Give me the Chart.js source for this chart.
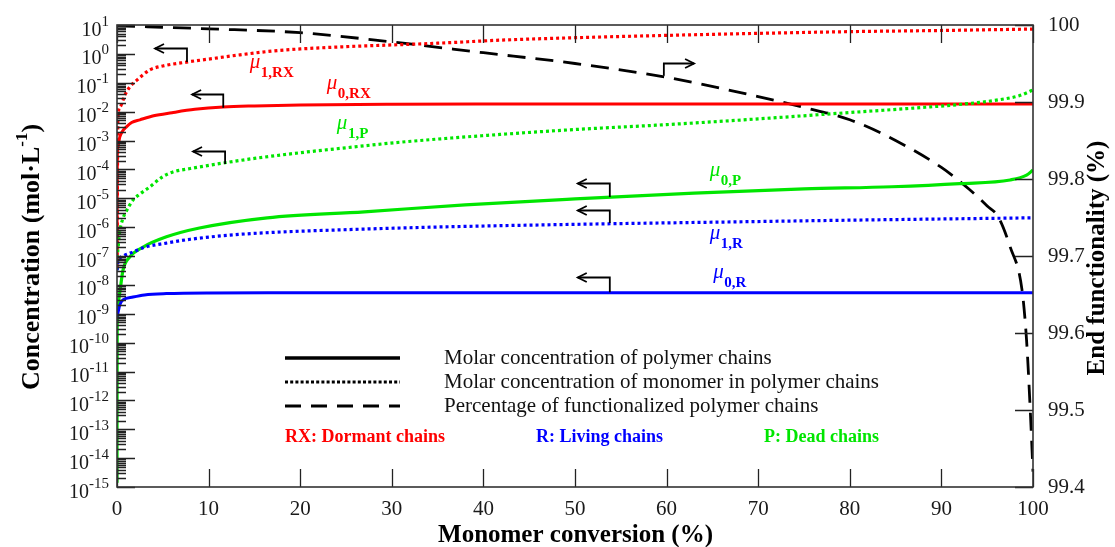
<!DOCTYPE html>
<html><head><meta charset="utf-8">
<script src="https://cdn.jsdelivr.net/npm/chart.js@4.4.1/dist/chart.umd.min.js"></script>
<style>html,body{margin:0;padding:0;background:#fff;}#c{display:block;}</style>
</head><body>
<canvas id="c" width="1115" height="547"></canvas>
<script>
// ---------- data (monomer conversion %, concentration mol/L) ----------
const conv_mu1RX = [0, 0.1, 0.33, 0.87, 1.4, 2.2, 3.6, 5, 7.6, 10, 13, 17, 20, 25, 30, 35, 42, 50, 60, 70, 80, 90, 100];
const mu1RX      = [4e-8, 6.3e-3, 0.0145, 0.038, 0.072, 0.126, 0.28, 0.38, 0.52, 0.66, 0.89, 1.26, 1.48, 1.78, 2.04, 2.34, 3.0, 3.63, 4.37, 5.13, 5.89, 6.46, 7.24];

const conv_mu0RX = [0, 0.03, 0.1, 0.3, 0.6, 1, 1.6, 2.5, 4, 6, 8.5, 11.6, 15, 20, 30, 40, 60, 80, 100];
const mu0RX      = [4e-8, 2.5e-4, 6e-4, 1.3e-3, 2.1e-3, 2.9e-3, 4.2e-3, 5.2e-3, 7.2e-3, 9.2e-3, 1.2e-2, 1.45e-2, 1.58e-2, 1.7e-2, 1.8e-2, 1.83e-2, 1.84e-2, 1.84e-2, 1.84e-2];

const conv_mu1P = [0, 0.05, 0.15, 0.33, 0.65, 1, 1.75, 2.5, 3.6, 5, 6.1, 8, 11.6, 15, 20.7, 25, 29.8, 35, 41.8, 50, 60, 70, 80, 86, 92.4, 96, 98.5, 100];
const mu1P      = [3.2e-8, 1e-7, 2.5e-7, 7.9e-7, 2e-6, 3.5e-6, 8.7e-6, 1.4e-5, 2.5e-5, 5.6e-5, 8.1e-5, 1.07e-4, 1.66e-4, 2.4e-4, 4e-4, 5.6e-4, 8.1e-4, 1.12e-3, 1.62e-3, 2.4e-3, 3.55e-3, 5.6e-3, 9.3e-3, 1.26e-2, 1.82e-2, 2.5e-2, 3.55e-2, 5.6e-2];

const conv_mu0P = [0, 0.02, 0.1, 0.33, 0.65, 1.4, 2.8, 5.4, 9, 16.4, 27, 38, 50, 63, 75, 84.6, 92, 97.5, 99.3, 100];
const mu0P      = [1.4e-15, 3.2e-10, 2e-9, 6.3e-9, 3.2e-8, 9.3e-8, 2e-7, 4.6e-7, 9.3e-7, 2.1e-6, 3.4e-6, 5.9e-6, 9.5e-6, 1.5e-5, 2.1e-5, 2.5e-5, 3.2e-5, 4.3e-5, 6.3e-5, 9.5e-5];

const conv_mu1R = [0, 0.1, 0.33, 0.8, 1.75, 3, 5.4, 8, 12.7, 18, 23.6, 34.5, 52.7, 65, 80, 100];
const mu1R      = [3.2e-8, 6.3e-8, 8.5e-8, 1.05e-7, 1.38e-7, 2e-7, 2.8e-7, 3.8e-7, 5.4e-7, 6.8e-7, 7.9e-7, 1e-6, 1.29e-6, 1.48e-6, 1.74e-6, 2.1e-6];

const conv_mu0R = [0, 0.1, 0.3, 0.65, 1.75, 3, 5.4, 10, 20, 100];
const mu0R      = [8e-10, 1.07e-9, 2e-9, 3e-9, 3.8e-9, 4.5e-9, 5e-9, 5.25e-9, 5.3e-9, 5.3e-9];

// end functionality (%) on the right axis
const conv_EF = [0, 10, 20, 30, 40, 50, 60, 70, 75, 80, 85, 90, 93, 95, 96.2, 97.5, 98.8, 99.3, 99.7, 100];
const endFunc = [99.999, 99.995, 99.99, 99.978, 99.964, 99.95, 99.932, 99.907, 99.893, 99.877, 99.85, 99.815, 99.787, 99.765, 99.751, 99.712, 99.656, 99.59, 99.5, 99.42];

// ---------- ticks / texts ----------
const xTicks = [0, 10, 20, 30, 40, 50, 60, 70, 80, 90, 100];
const xTickLabels = ['0', '10', '20', '30', '40', '50', '60', '70', '80', '90', '100'];
const leftExponents = [1, 0, -1, -2, -3, -4, -5, -6, -7, -8, -9, -10, -11, -12, -13, -14, -15];
const rightTicks = [99.4, 99.5, 99.6, 99.7, 99.8, 99.9, 100];
const rightTickLabels = ['99.4', '99.5', '99.6', '99.7', '99.8', '99.9', '100'];

const xTitle = 'Monomer conversion (%)';
const yTitleMain = 'Concentration (mol\u00B7L';
const yTitleSup = '-1';
const yTitleEnd = ')';
const y2Title = 'End functionality (%)';

const legendTexts = ['Molar concentration of polymer chains', 'Molar concentration of monomer in polymer chains', 'Percentage of functionalized polymer chains'];
const chainTexts = ['RX: Dormant chains', 'R: Living chains', 'P: Dead chains'];

// curve labels (anchor in data coords: conversion, concentration)
const curveLabelSub = ['1,RX', '0,RX', '1,P', '0,P', '1,R', '0,R'];
const curveLabelX = [14.5, 22.9, 24.0, 64.7, 64.7, 65.1];
const curveLabelY = [0.324, 0.0608, 0.0025, 5.9e-5, 3.88e-7, 1.73e-8];

// L-shaped arrows (data coords): head x, corner x, top value, bottom value, axis
const arrowHeadX   = [4.15, 8.2, 8.3, 63.0, 50.3, 50.3, 50.3];
const arrowCornerX = [7.64, 11.6, 11.8, 59.7, 53.8, 53.8, 53.8];
const arrowTopY    = [1.6, 0.041, 4.4e-4, 99.951, 3.4e-5, 3.9e-6, 1.86e-8];
const arrowBotY    = [0.52, 0.0135, 1.55e-4, 99.934, 1.1e-5, 1.38e-6, 5.6e-9];
const arrowAxis    = ['y', 'y', 'y', 'y2', 'y', 'y', 'y'];

const RED = '#ff0000', GREEN = '#00e600', BLUE = '#0000ff', BLACK = '#000000';
const FONT = '"Liberation Serif", "Times New Roman", serif';

function pts(xs, ys) { return xs.map((x, i) => ({ x: x, y: ys[i] })); }

const base = { pointRadius: 0, fill: false, cubicInterpolationMode: 'monotone', borderCapStyle: 'butt' };
const datasets = [
  Object.assign({ data: pts(conv_mu0R, mu0R), borderColor: BLUE, borderWidth: 3, yAxisID: 'y' }, base),
  Object.assign({ data: pts(conv_mu1R, mu1R), borderColor: BLUE, borderWidth: 3.2, borderDash: [3, 3], yAxisID: 'y' }, base),
  Object.assign({ data: pts(conv_mu0P, mu0P), borderColor: GREEN, borderWidth: 3.2, yAxisID: 'y' }, base),
  Object.assign({ data: pts(conv_mu1P, mu1P), borderColor: GREEN, borderWidth: 3.2, borderDash: [3, 3], yAxisID: 'y' }, base),
  Object.assign({ data: pts(conv_mu0RX, mu0RX), borderColor: RED, borderWidth: 3, yAxisID: 'y' }, base),
  Object.assign({ data: pts(conv_mu1RX, mu1RX), borderColor: RED, borderWidth: 3.2, borderDash: [3, 3], yAxisID: 'y' }, base),
  Object.assign({ data: pts(conv_EF, endFunc), borderColor: BLACK, borderWidth: 2.8, borderDash: [18, 10], yAxisID: 'y2' }, base)
];

function arrowHead(ctx, x, y, dir) {
  ctx.beginPath();
  ctx.moveTo(x - dir * 9, y - 4.5);
  ctx.lineTo(x, y);
  ctx.lineTo(x - dir * 9, y + 4.5);
  ctx.stroke();
}

const deco = {
  id: 'deco',
  afterDraw(chart) {
    const ctx = chart.ctx, a = chart.chartArea;
    const xs = chart.scales.x, ys = chart.scales.y, y2 = chart.scales.y2;
    ctx.save();
    // tick marks (inward)
    ctx.strokeStyle = '#222'; ctx.lineWidth = 1.3; ctx.setLineDash([]);
    ctx.beginPath();
    ys.ticks.forEach(t => {
      const py = Math.round(ys.getPixelForValue(t.value)) + 0.5;
      if (py < a.top - 1 || py > a.bottom + 1) return;
      const len = t.major ? 18 : 9;
      ctx.moveTo(a.left, py); ctx.lineTo(a.left + len, py);
    });
    y2.ticks.forEach(t => {
      const py = Math.round(y2.getPixelForValue(t.value)) + 0.5;
      ctx.moveTo(a.right, py); ctx.lineTo(a.right - 18, py);
    });
    xs.ticks.forEach(t => {
      const px = Math.round(xs.getPixelForValue(t.value)) + 0.5;
      ctx.moveTo(px, a.bottom); ctx.lineTo(px, a.bottom - 18);
      ctx.moveTo(px, a.top); ctx.lineTo(px, a.top + 18);
    });
    ctx.stroke();
    // frame
    ctx.lineWidth = 1.6; ctx.strokeStyle = '#333';
    ctx.strokeRect(a.left, a.top, a.right - a.left, a.bottom - a.top);

    // left tick labels 10^n
    ctx.fillStyle = '#1a1a1a';
    ctx.textAlign = 'right'; ctx.textBaseline = 'alphabetic';
    leftExponents.forEach(e => {
      const py = ys.getPixelForValue(Number('1e' + e));
      const es = String(e);
      ctx.font = '15px ' + FONT;
      const ew = ctx.measureText(es).width;
      const right = a.left - 8;
      ctx.fillText(es, right, py + 0.5);
      ctx.font = '20px ' + FONT;
      ctx.fillText('10', right - ew, py + 10.5);
    });

    // axis titles
    ctx.fillStyle = '#000';
    ctx.font = 'bold 25px ' + FONT; ctx.textAlign = 'center'; ctx.textBaseline = 'middle';
    ctx.fillText(xTitle, (a.left + a.right) / 2 + 0.5, 536);

    // left title with superscript
    ctx.save();
    ctx.translate(32, 257); ctx.rotate(-Math.PI / 2);
    ctx.textAlign = 'left'; ctx.textBaseline = 'middle';
    ctx.font = 'bold 26px ' + FONT;
    const w1 = ctx.measureText(yTitleMain).width, w3 = ctx.measureText(yTitleEnd).width;
    ctx.font = 'bold 17px ' + FONT;
    const w2 = ctx.measureText(yTitleSup).width;
    let sx = -(w1 + w2 + w3) / 2;
    ctx.font = 'bold 26px ' + FONT; ctx.fillText(yTitleMain, sx, 0);
    ctx.font = 'bold 17px ' + FONT; ctx.fillText(yTitleSup, sx + w1, -9);
    ctx.font = 'bold 26px ' + FONT; ctx.fillText(yTitleEnd, sx + w1 + w2, 0);
    ctx.restore();

    ctx.save();
    ctx.translate(1098, 258); ctx.rotate(-Math.PI / 2);
    ctx.font = 'bold 25px ' + FONT; ctx.textAlign = 'center'; ctx.textBaseline = 'middle';
    ctx.fillText(y2Title, 0, 0);
    ctx.restore();

    // legend
    const lx0 = a.left + 168, lx1 = a.left + 283, ly = [358, 382, 406];
    ctx.strokeStyle = '#000';
    ctx.lineWidth = 3.5; ctx.setLineDash([]);
    ctx.beginPath(); ctx.moveTo(lx0, ly[0]); ctx.lineTo(lx1, ly[0]); ctx.stroke();
    ctx.lineWidth = 3; ctx.setLineDash([3, 2.2]);
    ctx.beginPath(); ctx.moveTo(lx0, ly[1]); ctx.lineTo(lx1, ly[1]); ctx.stroke();
    ctx.lineWidth = 3.2; ctx.setLineDash([16, 10]);
    ctx.beginPath(); ctx.moveTo(lx0, ly[2]); ctx.lineTo(lx1, ly[2]); ctx.stroke();
    ctx.setLineDash([]);
    ctx.font = '21px ' + FONT; ctx.textAlign = 'left'; ctx.textBaseline = 'middle'; ctx.fillStyle = '#111';
    legendTexts.forEach((t, i) => ctx.fillText(t, a.left + 327, ly[i]));
    ctx.font = 'bold 18px ' + FONT; ctx.textBaseline = 'alphabetic';
    const cx = [a.left + 168, a.left + 419, a.left + 647], cc = [RED, BLUE, GREEN];
    chainTexts.forEach((t, i) => { ctx.fillStyle = cc[i]; ctx.fillText(t, cx[i], 442); });

    // curve labels
    const lc = [RED, RED, GREEN, GREEN, BLUE, BLUE];
    curveLabelSub.forEach((s, i) => {
      const px = xs.getPixelForValue(curveLabelX[i]);
      const py = ys.getPixelForValue(curveLabelY[i]);
      ctx.fillStyle = lc[i]; ctx.textAlign = 'left'; ctx.textBaseline = 'alphabetic';
      ctx.font = 'italic 21px ' + FONT;
      const mw = ctx.measureText('\u03BC').width;
      ctx.fillText('\u03BC', px, py);
      ctx.font = 'bold 15px ' + FONT;
      ctx.fillText(s, px + mw + 0.5, py + 9);
    });

    // arrows
    ctx.strokeStyle = '#000'; ctx.lineWidth = 1.8; ctx.setLineDash([]);
    arrowHeadX.forEach((hx, i) => {
      const sc = arrowAxis[i] === 'y' ? ys : y2;
      const phx = xs.getPixelForValue(hx), pcx = xs.getPixelForValue(arrowCornerX[i]);
      const pty = Math.round(sc.getPixelForValue(arrowTopY[i])) + 0.5;
      const pby = sc.getPixelForValue(arrowBotY[i]);
      ctx.beginPath();
      ctx.moveTo(pcx, pby); ctx.lineTo(pcx, pty); ctx.lineTo(phx, pty);
      ctx.stroke();
      arrowHead(ctx, phx, pty, phx < pcx ? -1 : 1);
    });
    ctx.restore();
  }
};

new Chart(document.getElementById('c'), {
  type: 'line',
  data: { datasets: datasets },
  options: {
    responsive: false, animation: false, devicePixelRatio: 1,
    layout: { padding: { top: 25, left: 0, right: 0, bottom: 0 } },
    plugins: { legend: { display: false }, tooltip: { enabled: false } },
    scales: {
      x: {
        type: 'linear', position: 'bottom', min: 0, max: 100,
        afterBuildTicks: s => { s.ticks = xTicks.map(v => ({ value: v })); },
        ticks: { autoSkip: false, maxRotation: 0, padding: 2, color: '#1a1a1a', font: { family: FONT, size: 21 },
                 callback: (v, i) => xTickLabels[i] },
        grid: { display: false }, border: { display: false },
        afterFit: s => { s.height = 60; }
      },
      y: {
        type: 'logarithmic', position: 'left', min: 1e-15, max: 10,
        afterBuildTicks: s => {
          const t = [];
          for (let e = -15; e <= 1; e++) {
            for (let m = 1; m < 10; m++) {
              const v = Number(m + 'e' + e);
              if (v <= 10.0001) t.push({ value: v, major: m === 1 });
            }
          }
          s.ticks = t;
        },
        ticks: { display: false },
        grid: { display: false }, border: { display: false },
        afterFit: s => { s.width = 117; }
      },
      y2: {
        type: 'linear', position: 'right', min: 99.4, max: 100,
        afterBuildTicks: s => { s.ticks = rightTicks.map(v => ({ value: v })); },
        ticks: { autoSkip: false, padding: 7, color: '#1a1a1a', font: { family: FONT, size: 21 },
                 callback: (v, i) => rightTickLabels[i] },
        grid: { display: false }, border: { display: false },
        afterFit: s => { s.width = 82; }
      }
    }
  },
  plugins: [deco]
});
</script>
</body></html>
